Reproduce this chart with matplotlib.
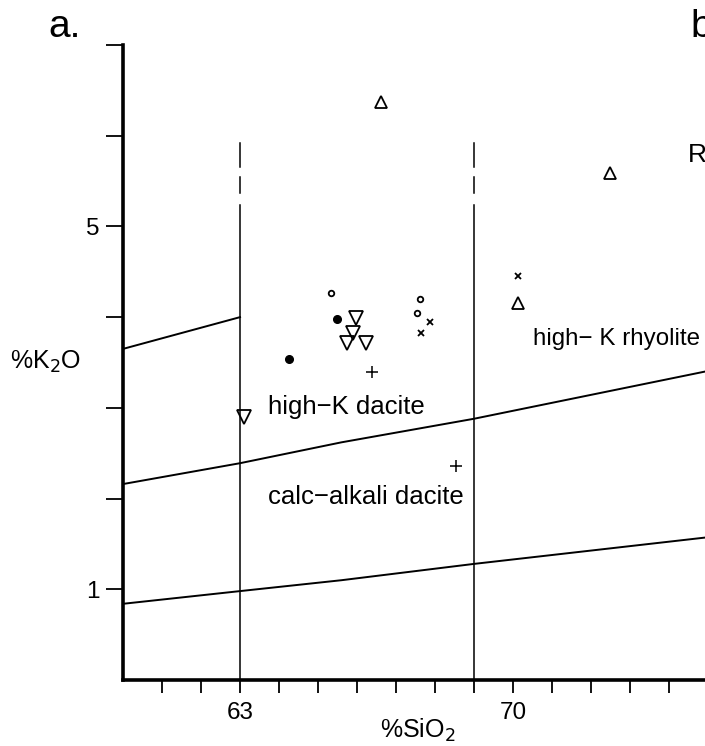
import numpy as np
import matplotlib
matplotlib.use("Agg")
import matplotlib.pyplot as plt

plt.rcParams['font.family'] = ['Liberation Sans', 'DejaVu Sans']

# boundary lines (SiO2, K2O)
upper_x = [60, 63]
upper_y = [3.65, 4.00]
mid_x = [60, 63, 65.6, 69, 74.92]
mid_y = [2.16, 2.39, 2.62, 2.88, 3.40]
low_x = [60, 63, 65.6, 69, 74.92]
low_y = [0.84, 0.98, 1.10, 1.28, 1.57]

# vertical dividers
div_si = [63, 69]
div_solid_top = 5.24
div_dashes = [(5.37, 5.54), (5.65, 5.92)]

# samples
tri_x = [66.62, 72.49, 70.13]
tri_y = [6.37, 5.59, 4.16]
itri_x = [65.97, 65.90, 65.74, 66.23, 63.10]
itri_y = [3.99, 3.83, 3.72, 3.72, 2.90]
dot_x = [65.49, 64.26]
dot_y = [3.98, 3.54]
ocir_x = [65.33, 67.62, 67.54]
ocir_y = [4.27, 4.20, 4.05]
cross_x = [67.87, 67.64, 70.13]
cross_y = [3.95, 3.83, 4.45]
plus_x = [66.38, 68.54]
plus_y = [3.40, 2.36]

fig = plt.figure(figsize=(7.05, 7.46), dpi=100)
ax = fig.add_axes([123/705, 1-680/746, 1-123/705, (680-45)/746])

ax.plot(upper_x, upper_y, color='k', lw=1.4)
ax.plot(mid_x, mid_y, color='k', lw=1.4)
ax.plot(low_x, low_y, color='k', lw=1.4)

for x in div_si:
    ax.plot([x, x], [0, div_solid_top], color='k', lw=1.1)
    for a, b in div_dashes:
        ax.plot([x, x], [a, b], color='k', lw=1.1)

ax.plot(tri_x, tri_y, '^', ms=9, mfc='none', mec='k', mew=1.3, ls='none')
ax.plot(itri_x, itri_y, 'v', ms=9.5, mfc='none', mec='k', mew=1.3, ls='none')
ax.plot(dot_x, dot_y, 'o', ms=5.5, color='k', ls='none')
ax.plot(ocir_x, ocir_y, 'o', ms=4, mfc='none', mec='k', mew=1.3, ls='none')
ax.plot(cross_x, cross_y, 'x', ms=4.5, color='k', mew=1.3, ls='none')
ax.plot(plus_x, plus_y, '+', ms=9, color='k', mew=1.1, ls='none')

ax.text(63.72, 3.01, "high\u2212K dacite", fontsize=18.5, va='center', ha='left')
ax.text(63.72, 2.02, "calc\u2212alkali dacite", fontsize=18.5, va='center', ha='left')
ax.text(70.51, 3.76, "high\u2212 K rhyolite", fontsize=17.4, va='center', ha='left')

ax.set_xlim(60, 74.92)
ax.set_ylim(0, 7)
ax.spines['top'].set_visible(False)
ax.spines['right'].set_visible(False)
ax.spines['left'].set_linewidth(2.6)
ax.spines['bottom'].set_linewidth(2.6)

ax.set_xticks(np.arange(61, 75))
ax.set_xticklabels(['63' if v == 63 else '70' if v == 70 else '' for v in range(61, 75)])
ax.set_yticks(np.arange(1, 8))
ax.set_yticklabels(['1' if v == 1 else '5' if v == 5 else '' for v in range(1, 8)])
ax.tick_params(axis='x', direction='out', length=9.5, width=1.3, labelsize=17.5, pad=6)
ax.tick_params(axis='y', direction='out', length=12, width=1.3, labelsize=17.5, pad=5)

fig.text(10/705, 1-362/746, "%K$_2$O", fontsize=18, va='center', ha='left')
fig.text(418/705, 1-730/746, "%SiO$_2$", fontsize=18, va='center', ha='center')
fig.text(48/705, 1-27/746, "a.", fontsize=28, va='center', ha='left')
fig.text(690/705, 1-27/746, "b", fontsize=28, va='center', ha='left')
fig.text(688/705, 1-155/746, "R", fontsize=19, va='center', ha='left')

fig.savefig("out.png", dpi=100)
